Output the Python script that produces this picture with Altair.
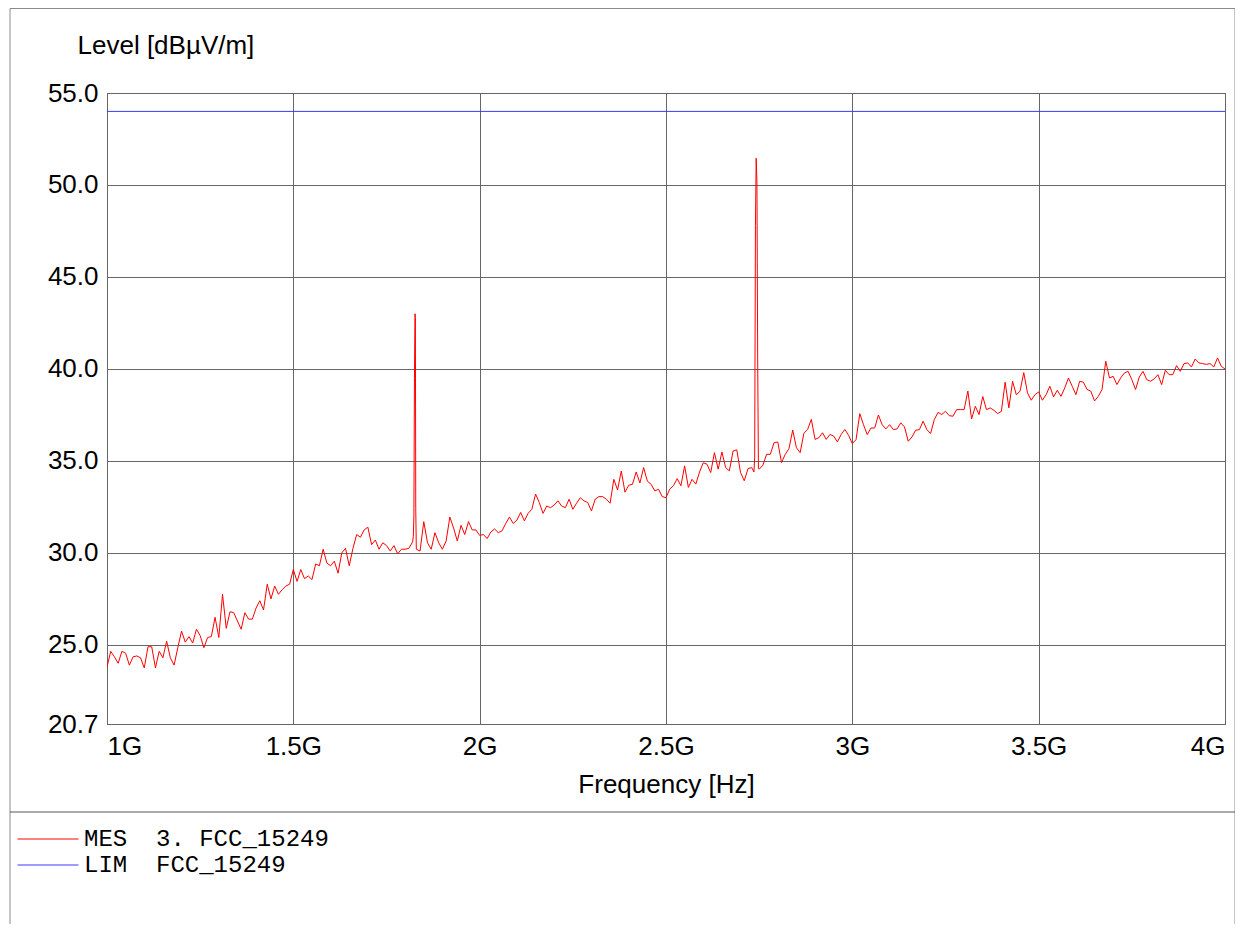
import altair as alt
import pandas as pd

# ---------------- data ----------------
f_start_mhz = 1000
f_step_mhz = 10
mes_level = [
    23.8, 24.65, 24.35, 24.0, 24.65, 24.55, 23.9, 24.35, 24.4, 24.3,
    23.75, 24.9, 24.9, 23.75, 24.65, 24.3, 25.2, 24.3, 23.9, 24.85,
    25.75, 25.15, 25.45, 25.1, 25.85, 25.5, 24.85, 25.4, 25.45, 26.5,
    25.4, 27.75, 25.9, 26.8, 26.75, 26.3, 25.85, 26.75, 26.4, 26.4,
    27.0, 27.4, 26.9, 28.3, 27.5, 28.2, 27.75, 28.0, 28.2, 28.3,
    29.1, 28.45, 29.1, 28.6, 28.75, 28.55, 29.4, 29.3, 30.2, 29.45,
    29.3, 29.55, 28.9, 30.0, 30.25, 29.3, 30.25, 31.0, 30.85, 31.25,
    31.4, 30.45, 30.7, 30.2, 30.55, 30.4, 30.1, 30.4, 29.95, 30.2,
    30.2, 30.25, 30.6, 30.2, 30.1, 31.7, 30.55, 30.2, 31.1, 30.55,
    30.2, 30.65, 31.95, 31.35, 30.65, 31.5, 31.0, 31.7, 31.25, 31.25,
    30.95, 31.0, 30.78, 31.14, 31.3, 31.1, 31.2, 31.6, 31.95, 31.6,
    31.78, 32.2, 31.74, 32.15, 32.37, 33.2, 32.74, 32.15, 32.55, 32.46,
    32.6, 32.83, 32.55, 32.46, 32.92, 32.37, 32.7, 33.0, 32.83, 32.74,
    32.28, 32.92, 33.06, 33.06, 32.92, 32.7, 34.0, 33.42, 34.45, 33.3,
    33.68, 33.73, 34.4, 33.8, 34.64, 33.9, 33.73, 33.37, 33.46, 33.06,
    33.0, 33.47, 33.65, 34.04, 33.65, 34.73, 33.56, 34.0, 33.74, 34.4,
    34.9, 34.82, 34.37, 35.45, 34.55, 35.49, 34.64, 34.46, 35.54, 35.6,
    34.37, 33.92, 34.58, 34.64, 47.8, 34.55, 34.77, 35.36, 35.36, 35.99,
    36.03, 34.91, 35.36, 35.67, 36.68, 35.72, 35.45, 36.5, 36.71, 37.26,
    36.17, 36.26, 36.53, 36.17, 36.44, 36.35, 36.03, 36.44, 36.71, 36.39,
    35.94, 36.16, 37.57, 36.97, 36.43, 36.79, 36.79, 37.5, 36.97, 36.74,
    36.97, 36.7, 36.74, 37.07, 36.85, 36.07, 36.3, 36.67, 36.7, 37.16,
    36.7, 36.49, 37.25, 37.64, 37.52, 37.7, 37.46, 37.43, 37.79, 37.79,
    37.79, 38.8, 37.28, 37.97, 37.52, 38.5, 37.79, 37.88, 37.75, 37.57,
    37.7, 39.28, 37.88, 39.33, 38.6, 38.79, 39.8, 38.7, 38.3, 38.6,
    38.75, 38.3, 38.6, 39.06, 38.48, 38.84, 38.51, 38.97, 39.51, 39.06,
    38.6, 39.33, 39.28, 38.88, 38.79, 38.26, 38.51, 38.88, 40.42, 39.51,
    39.6, 39.15, 39.51, 39.78, 39.87, 39.42, 38.88, 39.56, 39.87, 39.42,
    39.33, 39.46, 39.69, 39.15, 39.93, 39.69, 39.69, 40.18, 39.87, 40.29,
    40.33, 40.11, 40.54, 40.33, 40.29, 40.25, 40.29, 40.11, 40.6, 40.14, 40.0,
]
spike_freq_mhz = [1822, 1823.5, 1825, 1826.5, 1827.5, 1828.5,
                  2736, 2738, 2742, 2744, 2746, 2748]
spike_level = [30.9, 32.0, 39.5, 43.0, 42.8, 32.4,
               34.4, 35.2, 51.45, 50.2, 40.6, 34.6]
lim_freq_ghz = [1.0, 4.0]
lim_level = [54.0, 54.0]

x_ticks = [1, 1.5, 2, 2.5, 3, 3.5, 4]
y_ticks = [20.7, 25, 30, 35, 40, 45, 50, 55]

MES = "MES\u00a0\u00a03.\u00a0FCC_15249"
LIM = "LIM\u00a0\u00a0FCC_15249"

# ---------------- table ----------------
mes_freq = [(f_start_mhz + i * f_step_mhz) / 1000 for i in range(len(mes_level))]
mes_freq += [f / 1000 for f in spike_freq_mhz]
mes_vals = mes_level + spike_level
mes_df = pd.DataFrame({"freq": mes_freq, "level": mes_vals, "series": MES})
mes_df = mes_df.sort_values("freq")
lim_df = pd.DataFrame({"freq": lim_freq_ghz, "level": lim_level, "series": LIM})
df = pd.concat([mes_df, lim_df], ignore_index=True)

W, H = 1118, 631

lines = alt.Chart(df).mark_line(strokeWidth=1, clip=True).encode(
    x=alt.X("freq:Q",
            scale=alt.Scale(domain=[1, 4], nice=False, zero=False),
            axis=alt.Axis(values=x_ticks, labelExpr="datum.value + 'G'",
                          labelFlush=True, labelPadding=9,
                          title="Frequency [Hz]", titleX=W / 2, titleY=60,
                          titleAlign="center", titleBaseline="middle")),
    y=alt.Y("level:Q",
            scale=alt.Scale(domain=[20.7, 55], nice=False, zero=False),
            axis=alt.Axis(values=y_ticks, format=".1f", labelPadding=9,
                          title="Level [dBµV/m]", titleAngle=0, titleX=-30,
                          titleY=-48, titleAlign="left", titleBaseline="middle")),
    color=alt.Color("series:N",
                    scale=alt.Scale(domain=[MES, LIM], range=["#ff0000", "#3a3aff"]),
                    legend=alt.Legend(orient="none", legendX=-90, legendY=734,
                                      title=None, symbolType="stroke",
                                      symbolSize=3721, symbolStrokeWidth=1,
                                      clipHeight=24,
                                      labelFont="Liberation Mono", labelFontSize=24,
                                      labelColor="black", labelOffset=5,
                                      labelLimit=0,
                                      rowPadding=2, padding=0)),
    order="freq:Q",
)

one = pd.DataFrame({"a": [0]})
frame_col = "#8a8a8a"
left_rule = alt.Chart(one).mark_rule(color=frame_col, strokeWidth=1).encode(
    x=alt.value(-97), y=alt.value(-84.5), y2=alt.value(831))
right_rule = alt.Chart(one).mark_rule(color=frame_col, strokeWidth=1).encode(
    x=alt.value(1128), y=alt.value(-84.5), y2=alt.value(831))
top_rule = alt.Chart(one).mark_rule(color=frame_col, strokeWidth=1).encode(
    x=alt.value(-97), x2=alt.value(1128), y=alt.value(-84.5))
divider = alt.Chart(one).mark_rule(color="#555555", strokeWidth=1).encode(
    x=alt.value(-97), x2=alt.value(1128), y=alt.value(719))

chart = alt.layer(left_rule, right_rule, top_rule, divider, lines).properties(
    width=W, height=H,
    autosize=alt.AutoSizeParams(type="none"),
    padding={"left": 99, "top": 85, "right": 10, "bottom": 200},
).configure(
    font="Liberation Sans",
).configure_view(
    stroke="#333333", strokeWidth=1,
).configure_axis(
    grid=True, gridColor="#666666", gridWidth=1, gridOpacity=1,
    domain=False, ticks=False,
    labelFont="Liberation Sans", labelFontSize=26, labelColor="black",
    titleFont="Liberation Sans", titleFontSize=26, titleFontWeight="normal",
    titleColor="black",
)

chart.save("out.html", embed_options={"renderer": "svg", "actions": False})
